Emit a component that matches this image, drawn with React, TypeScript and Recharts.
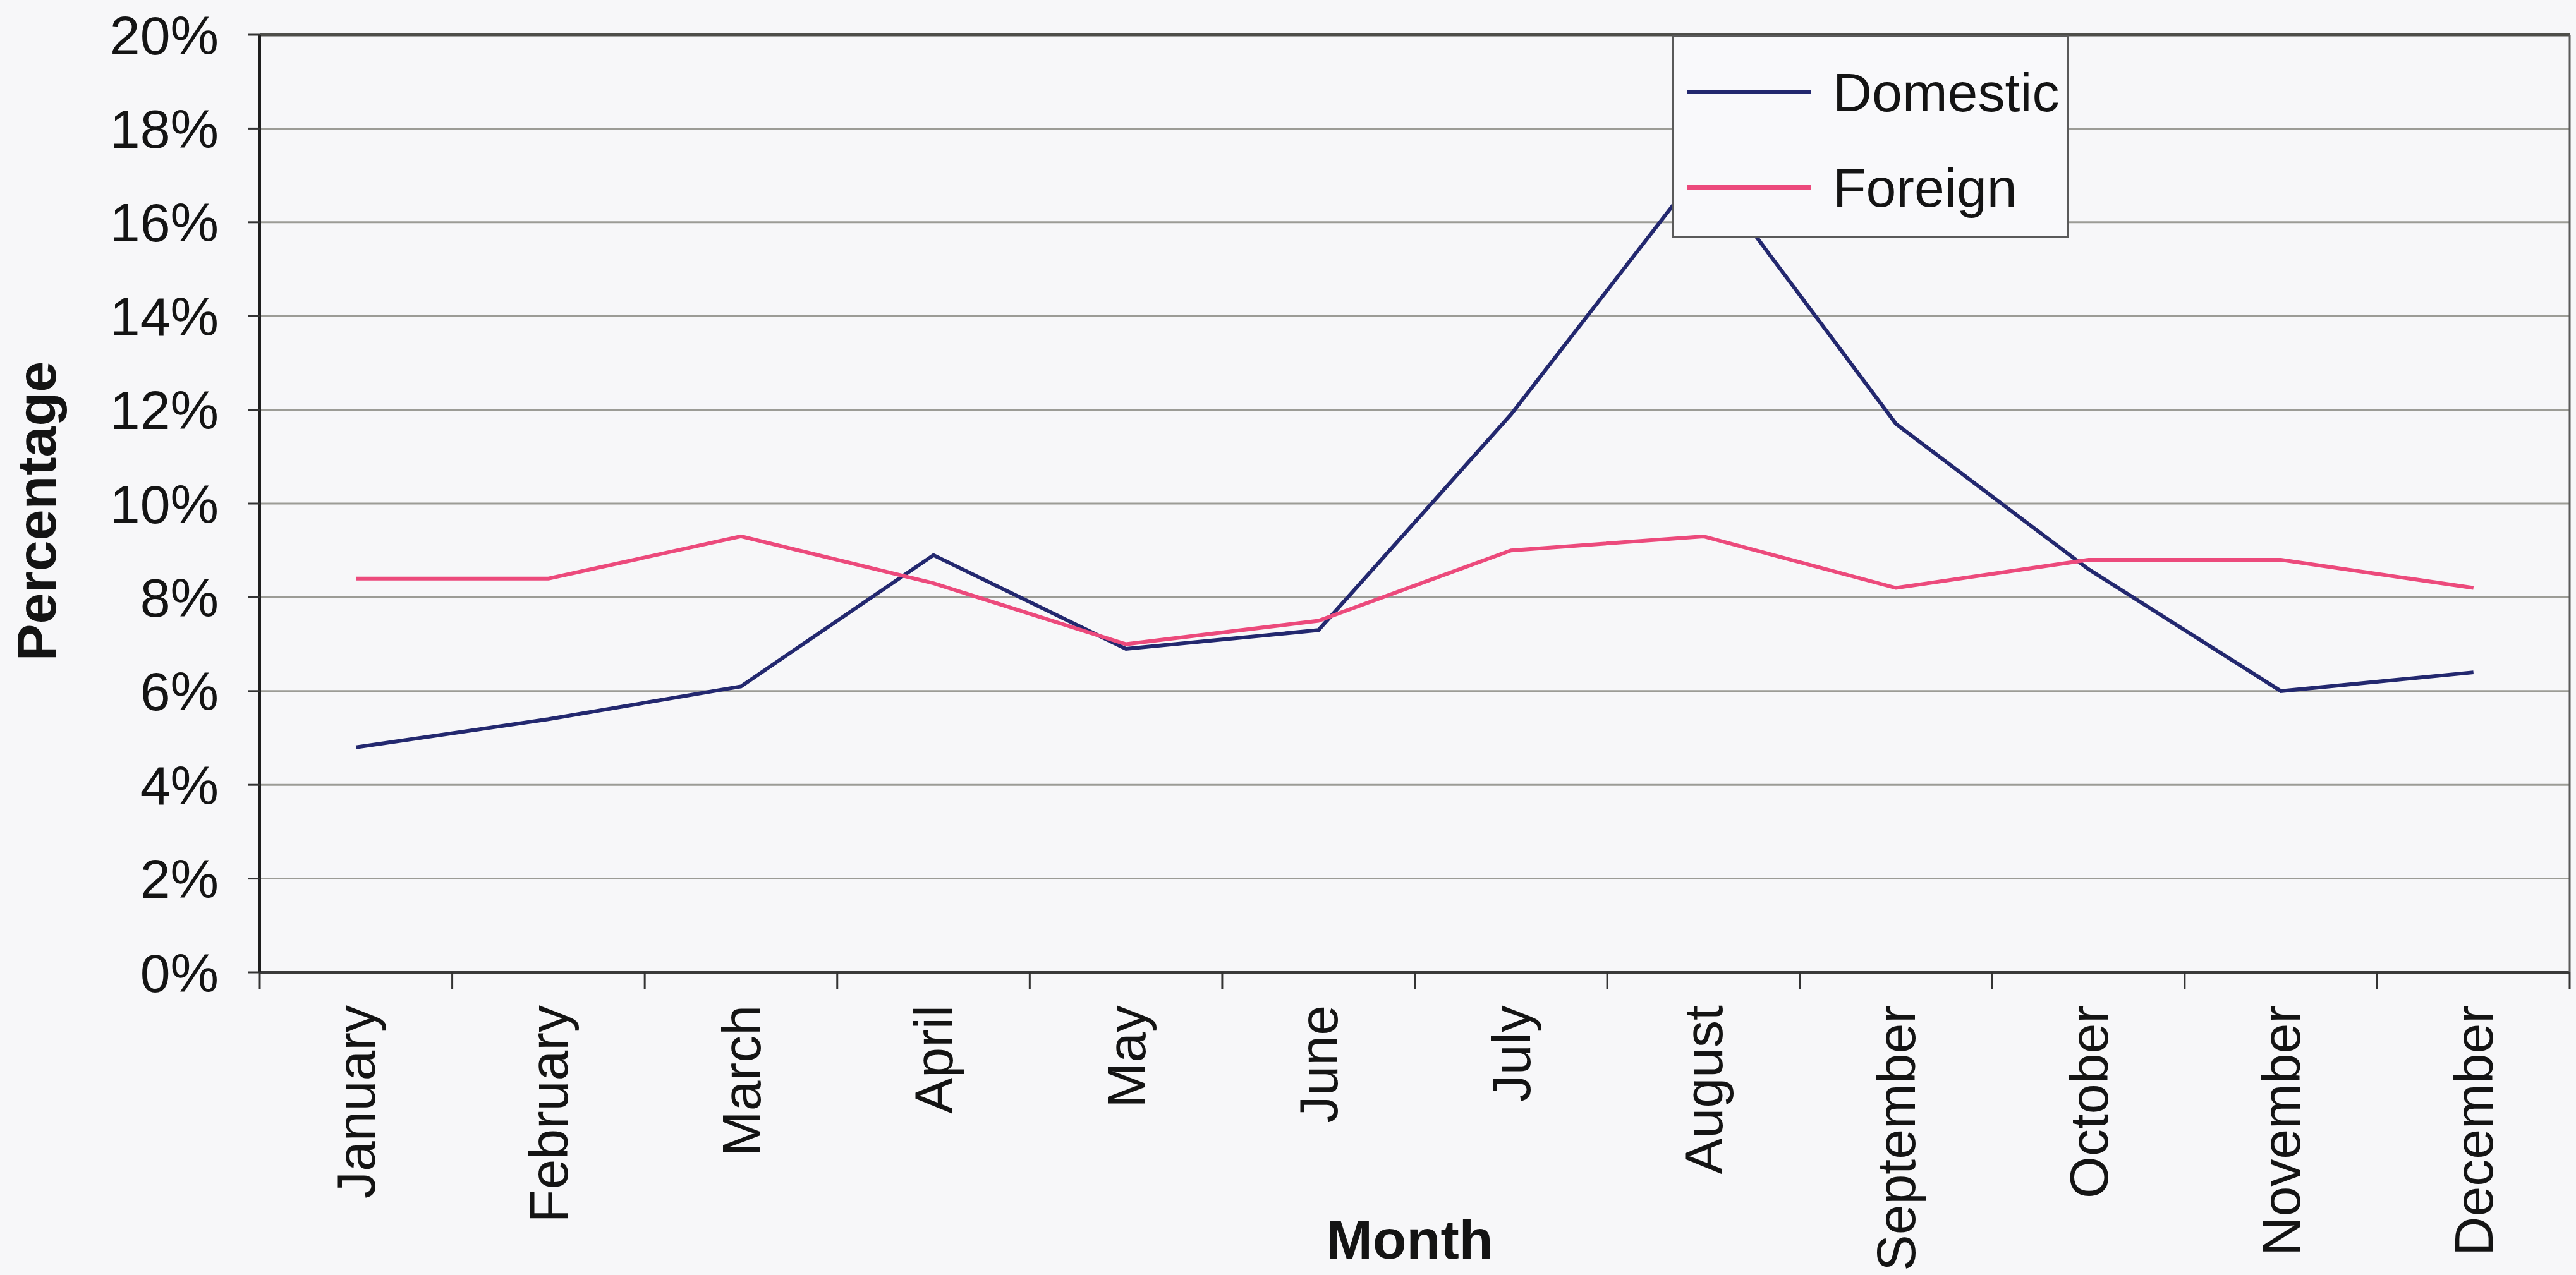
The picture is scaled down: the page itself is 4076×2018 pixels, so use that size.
import { CartesianGrid, Legend, Line, LineChart, ReferenceLine, XAxis, YAxis } from "recharts";

const months = [
  "January", "February", "March", "April", "May", "June",
  "July", "August", "September", "October", "November", "December",
];

// share of the yearly total per month, in %
const domestic = [4.8, 5.4, 6.1, 8.9, 6.9, 7.3, 11.9, 17.2, 11.7, 8.6, 6.0, 6.4];
const foreign = [8.4, 8.4, 9.3, 8.3, 7.0, 7.5, 9.0, 9.3, 8.2, 8.8, 8.8, 8.2];

const percentTicks = [0, 2, 4, 6, 8, 10, 12, 14, 16, 18, 20];

const data = months.map((month, i) => ({
  month,
  Domestic: domestic[i],
  Foreign: foreign[i],
}));

const WIDTH = 4076;
const HEIGHT = 2018;
const PLOT_LEFT = 411;
const PLOT_RIGHT = 4066;
const PLOT_TOP = 55;
const PLOT_BOTTOM = 1539;
const HALF_BAND = (PLOT_RIGHT - PLOT_LEFT) / months.length / 2;

const FONT = '"Liberation Sans", Arial, sans-serif';
const INK = "#141414";

// month label centred on its category, with tick marks on the band edges
function MonthTick(props: any) {
  const { x, y, payload, index } = props;
  const isLast = index === months.length - 1;
  return (
    <g>
      <line x1={x - HALF_BAND} x2={x - HALF_BAND} y1={y} y2={y + 26} stroke="#333" strokeWidth={3} />
      {isLast && (
        <line x1={x + HALF_BAND} x2={x + HALF_BAND} y1={y} y2={y + 26} stroke="#333" strokeWidth={3} />
      )}
      <text
        transform={`translate(${x}, ${y + 52}) rotate(-90)`}
        textAnchor="end"
        dy="0.35em"
        fontFamily={FONT}
        fontSize={86}
        fill={INK}
      >
        {payload.value}
      </text>
    </g>
  );
}

function PercentTitle(props: any) {
  const { viewBox } = props;
  const cx = viewBox.x + 88;
  const cy = viewBox.y + viewBox.height / 2 + 12;
  return (
    <text
      x={cx}
      y={cy}
      transform={`rotate(-90 ${cx} ${cy})`}
      textAnchor="middle"
      fontFamily={FONT}
      fontWeight={700}
      fontSize={88}
      fill={INK}
    >
      Percentage
    </text>
  );
}

function MonthTitle(props: any) {
  const { viewBox } = props;
  return (
    <text
      x={viewBox.x + viewBox.width / 2 - 8}
      y={1992}
      textAnchor="middle"
      fontFamily={FONT}
      fontWeight={700}
      fontSize={88}
      fill={INK}
    >
      Month
    </text>
  );
}

function LegendBox(props: any) {
  const { payload = [] } = props;
  return (
    <div
      style={{
        width: "100%",
        height: "100%",
        boxSizing: "border-box",
        border: "3px solid #5a5a5a",
        background: "#f9f9fb",
        paddingTop: 12,
      }}
    >
      {payload.map((entry: any) => (
        <div
          key={entry.value}
          style={{ height: 151, display: "flex", alignItems: "center" }}
        >
          <span
            style={{
              display: "inline-block",
              marginLeft: 22,
              width: 195,
              height: 7,
              background: entry.color,
            }}
          />
          <span
            style={{
              marginLeft: 35,
              fontFamily: FONT,
              fontSize: 86,
              color: INK,
              lineHeight: 1,
            }}
          >
            {entry.value}
          </span>
        </div>
      ))}
    </div>
  );
}

export default function App() {
  return (
    <div
      style={{
        position: "absolute",
        left: 0,
        top: 0,
        width: WIDTH,
        height: HEIGHT,
        background: "#f7f7f9",
      }}
    >
      <LineChart
        width={WIDTH}
        height={HEIGHT}
        data={data}
        margin={{ top: PLOT_TOP, right: WIDTH - PLOT_RIGHT - 1, bottom: 0, left: 0 }}
      >
        <CartesianGrid
          yAxisId="pct"
          horizontal
          vertical={false}
          stroke="#9c9c96"
          strokeWidth={3}
        />
        <XAxis
          dataKey="month"
          interval={0}
          height={HEIGHT - PLOT_BOTTOM}
          padding={{ left: HALF_BAND, right: HALF_BAND }}
          axisLine={{ stroke: "#3a3a3a", strokeWidth: 4 }}
          tickLine={false}
          tickSize={0}
          tickMargin={0}
          tick={<MonthTick />}
          label={<MonthTitle />}
        />
        <YAxis
          yAxisId="pct"
          width={PLOT_LEFT}
          domain={[0, 20]}
          ticks={percentTicks}
          interval={0}
          tickFormatter={(v: number) => `${v}%`}
          axisLine={{ stroke: "#1e1e1e", strokeWidth: 4 }}
          tickLine={{ stroke: "#333", strokeWidth: 3 }}
          tickSize={18}
          tickMargin={47}
          tick={{ fontFamily: FONT, fontSize: 86, fill: INK }}
          label={<PercentTitle />}
        />
        <YAxis
          yAxisId="frame"
          orientation="right"
          width={1}
          domain={[0, 20]}
          tick={false}
          tickLine={false}
          axisLine={{ stroke: "#5a5a5a", strokeWidth: 3 }}
        />
        <ReferenceLine yAxisId="pct" y={20} stroke="#4e4e4a" strokeWidth={5} />
        <Line
          yAxisId="pct"
          type="linear"
          dataKey="Domestic"
          stroke="#23286f"
          strokeWidth={6}
          dot={false}
          isAnimationActive={false}
        />
        <Line
          yAxisId="pct"
          type="linear"
          dataKey="Foreign"
          stroke="#ec4a7c"
          strokeWidth={6}
          dot={false}
          isAnimationActive={false}
        />
        <Legend
          layout="vertical"
          align="center"
          verticalAlign="middle"
          content={<LegendBox />}
          wrapperStyle={{ left: 2645, top: 55, width: 629, height: 322 }}
        />
      </LineChart>
    </div>
  );
}
